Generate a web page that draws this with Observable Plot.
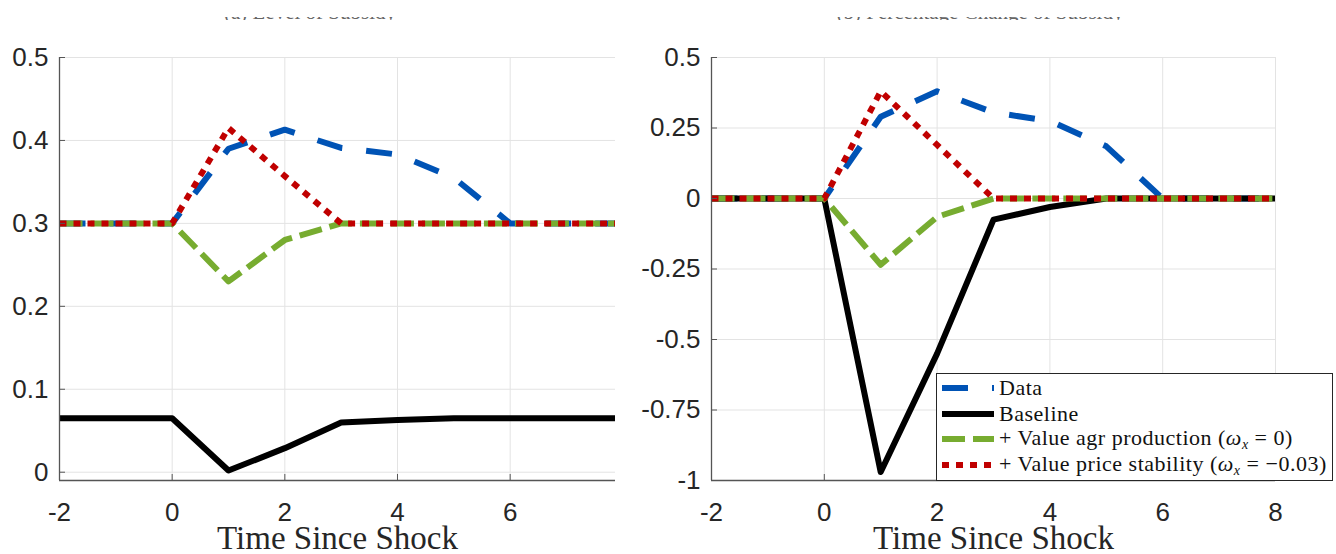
<!DOCTYPE html>
<html>
<head>
<meta charset="utf-8">
<script src="https://cdn.jsdelivr.net/npm/d3@7"></script>
<script src="https://cdn.jsdelivr.net/npm/@observablehq/plot@0.6"></script>
<style>
  body { margin: 0; background: #fff; }
  #wrap { position: relative; width: 1336px; height: 554px; overflow: hidden; background: #fff; }
  #left { position: absolute; left: 0; top: 0; }
  #right { position: absolute; left: 668px; top: 0; }
  .title { position: absolute; top: 17px; height: 3px; overflow: hidden; font-family: "Liberation Serif", serif;
           font-size: 21px; color: #666; white-space: nowrap; text-align: center; }
  .title span { position: relative; display: block; line-height: 21px; top: -14.6px; }
  #legend { position: absolute; left: 936px; top: 373px; width: 395px; height: 106px; background: #fff;
            border: 1px solid #262626; font-family: "Liberation Serif", serif; font-size: 22px; letter-spacing: 0.5px; color: #111; }
  .row { position: absolute; left: 0; height: 26px; display: flex; align-items: center; white-space: nowrap; }
  .row svg { margin-left: 5px; margin-right: 5px; }
  sub { font-size: 14px; font-style: italic; vertical-align: -4px; }
</style>
</head>
<body>
<div id="wrap">
  <div id="left"></div>
  <div id="right"></div>
  <div class="title" style="left:160px;width:300px"><span>(a) Level of Subsidy</span></div>
  <div class="title" style="left:800px;width:360px"><span>(b) Percentage Change of Subsidy</span></div>
  <div id="legend"></div>
</div>
<script>
// ---- data ----
const periods = [-2, -1, 0, 1, 2, 3, 4, 5, 6, 7, 8];

// (a) Level of subsidy
const levelData     = [0.3, 0.3, 0.3, 0.390, 0.413, 0.391, 0.383, 0.355, 0.3, 0.3, 0.3];
const levelBaseline = [0.065, 0.065, 0.065, 0.002, 0.029, 0.060, 0.063, 0.065, 0.065, 0.065, 0.065];
const levelAgr      = [0.3, 0.3, 0.3, 0.230, 0.280, 0.3, 0.3, 0.3, 0.3, 0.3, 0.3];
const levelPrice    = [0.3, 0.3, 0.3, 0.415, 0.357, 0.3, 0.3, 0.3, 0.3, 0.3, 0.3];

// (b) Percentage change of subsidy
const pctData     = [0, 0, 0, 0.290, 0.380, 0.305, 0.275, 0.185, 0, 0, 0];
const pctBaseline = [0, 0, 0, -0.970, -0.550, -0.075, -0.030, 0, 0, 0, 0];
const pctAgr      = [0, 0, 0, -0.235, -0.065, 0, 0, 0, 0, 0, 0];
const pctPrice    = [0, 0, 0, 0.380, 0.190, 0, 0, 0, 0, 0, 0];

const seriesNames = ["Data", "Baseline", "+ Value agr production", "+ Value price stability"];
const seriesColors = ["#0053b5", "#000000", "#77ac30", "#c00000"];
const seriesDash = ["26,24", null, "23,8", "7,7"];

const levelXTicks = [-2, 0, 2, 4, 6];
const levelYTicks = [0, 0.1, 0.2, 0.3, 0.4, 0.5];
const pctXTicks = [-2, 0, 2, 4, 6, 8];
const pctYTicks = [-1, -0.75, -0.5, -0.25, 0, 0.25, 0.5];
const xLabel = "Time Since Shock";

function rows(arr) { return periods.map((t, i) => ({t, v: arr[i]})); }

function panel({values, xDomain, xTicks, yDomain, yTicks, marginLeft, marginRight}) {
  return Plot.plot({
    width: 668, height: 554,
    marginTop: 57, marginBottom: 74, marginLeft, marginRight,
    style: {fontFamily: '"Liberation Sans", Arial, sans-serif', fontSize: "26px", color: "#262626", background: "transparent", overflow: "visible"},
    x: {domain: xDomain, label: null},
    y: {domain: yDomain, label: null},
    marks: [
      Plot.gridX(xTicks, {stroke: "#e3e3e3", strokeOpacity: 1}),
      Plot.gridY(yTicks, {stroke: "#e3e3e3", strokeOpacity: 1}),
      ...values.map((arr, i) => Plot.line(rows(arr), {
        x: "t", y: "v", stroke: seriesColors[i], strokeWidth: 6,
        strokeDasharray: seriesDash[i], strokeLinecap: "butt", strokeLinejoin: "round", clip: true
      })),
      Plot.ruleX([xDomain[0]], {stroke: "#555", strokeWidth: 1.3}),
      Plot.ruleY([yDomain[0]], {stroke: "#555", strokeWidth: 1.3}),
      Plot.axisX(xTicks, {tickSize: -6, tickPadding: 28, tickFormat: d => String(d), stroke: "#555"}),
      Plot.axisY(yTicks, {tickSize: -6, tickPadding: 17, tickFormat: d => String(d), stroke: "#555"}),
      Plot.text([xLabel], {text: d => d, frameAnchor: "bottom", dy: 68, fontFamily: '"Liberation Serif", serif', fontSize: 33, fill: "#262626"})
    ]
  });
}

document.getElementById("left").append(panel({
  values: [levelData, levelBaseline, levelAgr, levelPrice],
  xDomain: [-2, 7.87], xTicks: levelXTicks,
  yDomain: [-0.01, 0.5], yTicks: levelYTicks,
  marginLeft: 59, marginRight: 53
}));
document.getElementById("right").append(panel({
  values: [pctData, pctBaseline, pctAgr, pctPrice],
  xDomain: [-2, 8], xTicks: pctXTicks,
  yDomain: [-1, 0.5], yTicks: pctYTicks,
  marginLeft: 43, marginRight: 61
}));

// legend
const legendLabels = [
  "Data",
  "Baseline",
  "+ Value agr production (<i>ω</i><sub>x</sub> = 0)",
  "+ Value price stability (<i>ω</i><sub>x</sub> = −0.03)"
];
const legend = document.getElementById("legend");
legendLabels.forEach((lab, i) => {
  const row = document.createElement("div");
  row.className = "row";
  row.style.top = (1 + i * 25.7) + "px";
  const dash = seriesDash[i] ? `stroke-dasharray="${seriesDash[i]}"` : "";
  row.innerHTML = `<svg width="52" height="10"><line x1="0" y1="5" x2="52" y2="5" stroke="${seriesColors[i]}" stroke-width="6" ${dash}/></svg><span>${lab}</span>`;
  legend.append(row);
});
</script>
</body>
</html>
